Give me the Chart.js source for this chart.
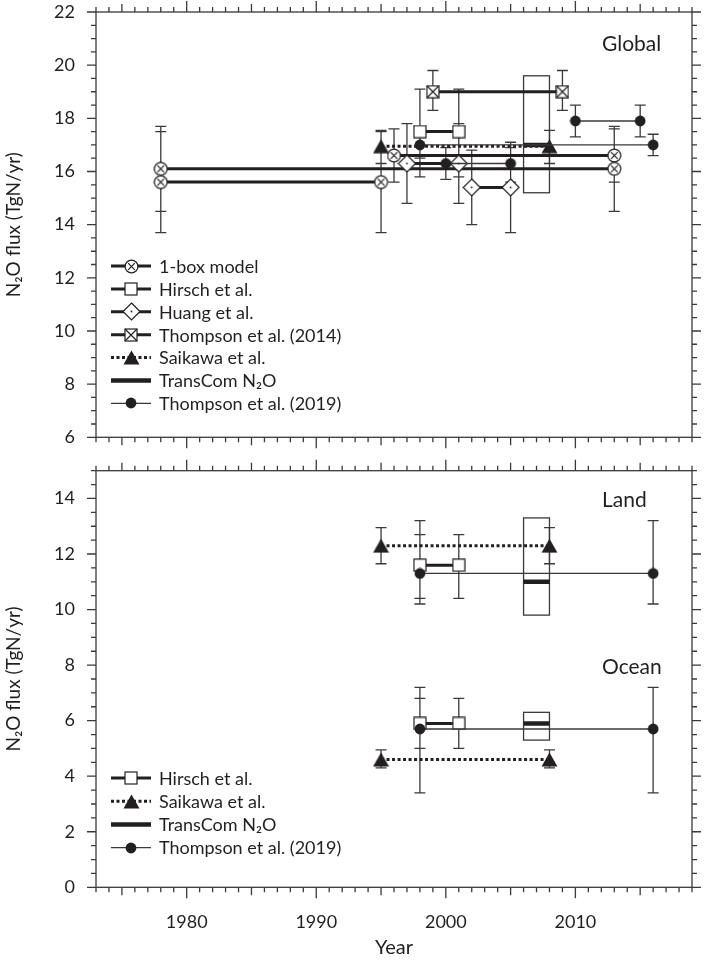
<!DOCTYPE html>
<html><head><meta charset="utf-8">
<script src="https://cdn.jsdelivr.net/npm/chart.js@4.4.1/dist/chart.umd.min.js"></script>
<style>
html,body{margin:0;padding:0;background:#fff;}
#wrap{position:relative;width:705px;height:960px;overflow:hidden;}
.cw{position:absolute;left:0;width:705px;}
</style></head><body>
<div id="wrap">
  <div class="cw" style="top:0;height:450px;"><canvas id="c1" width="705" height="450"></canvas></div>
  <div class="cw" style="top:450px;height:510px;"><canvas id="c2" width="705" height="510"></canvas></div>
</div>
<script>
// ---------------- DATA ----------------
const yearTicks    = [1980, 1990, 2000, 2010];
const globalTicks  = [6, 8, 10, 12, 14, 16, 18, 20, 22];
const regionTicks  = [0, 2, 4, 6, 8, 10, 12, 14];

// Global panel (each consecutive pair of points = one averaging period)
const boxYears   = [1978, 2013, 1978, 1995, 1996, 2013];
const boxFlux    = [16.1, 16.1, 15.6, 15.6, 16.6, 16.6];
const boxLow     = [14.5, 14.5, 13.7, 13.7, 15.6, 15.6];
const boxHigh    = [17.7, 17.7, 17.5, 17.5, 17.6, 17.6];

const hirschYears      = [1998, 2001];
const hirschGlobal     = [17.5, 17.5];
const hirschGlobalLow  = [15.8, 15.8];
const hirschGlobalHigh = [19.1, 19.1];

const huangYears = [1997, 2001, 2002, 2005];
const huangFlux  = [16.3, 16.3, 15.4, 15.4];
const huangLow   = [14.8, 14.8, 14.0, 13.7];
const huangHigh  = [17.8, 17.8, 16.8, 17.1];

const thompson14Years = [1999, 2009];
const thompson14Flux  = [19.0, 19.0];
const thompson14Low   = [18.3, 18.3];
const thompson14High  = [19.8, 19.8];

const saikawaYears      = [1995, 2008];
const saikawaGlobal     = [16.95, 16.95];
const saikawaGlobalLow  = [16.3, 16.3];
const saikawaGlobalHigh = [17.55, 17.55];

const transcomYears       = [2006, 2008];
const transcomGlobal      = [17.0, 17.0];
const transcomGlobalRange = [15.2, 19.6];

const thompson19GlobalYears = [1998, 2016, 2000, 2005, 2010, 2015];
const thompson19Global      = [17.0, 17.0, 16.3, 16.3, 17.9, 17.9];
const thompson19GlobalLow   = [16.5, 16.6, 15.7, 15.6, 17.3, 17.3];
const thompson19GlobalHigh  = [17.5, 17.4, 16.9, 16.9, 18.5, 18.5];

// Land / Ocean panel
const hirschLand      = [11.6, 11.6];
const hirschLandLow   = [10.4, 10.4];
const hirschLandHigh  = [12.7, 12.7];
const hirschOcean     = [5.9, 5.9];
const hirschOceanLow  = [5.0, 5.0];
const hirschOceanHigh = [6.8, 6.8];

const saikawaLand      = [12.3, 12.3];
const saikawaLandLow   = [11.65, 11.65];
const saikawaLandHigh  = [12.95, 12.95];
const saikawaOcean     = [4.6, 4.6];
const saikawaOceanLow  = [4.3, 4.3];
const saikawaOceanHigh = [4.95, 4.95];

const transcomLand       = [11.0, 11.0];
const transcomLandRange  = [9.8, 13.3];
const transcomOcean      = [5.9, 5.9];
const transcomOceanRange = [5.3, 6.3];

const thompson19RegionYears = [1998, 2016];
const thompson19Land      = [11.3, 11.3];
const thompson19LandLow   = [10.2, 10.2];
const thompson19LandHigh  = [13.2, 13.2];
const thompson19Ocean     = [5.7, 5.7];
const thompson19OceanLow  = [3.4, 3.4];
const thompson19OceanHigh = [7.2, 7.2];

const globalLegendLabels = ['1-box model', 'Hirsch et al.', 'Huang et al.', 'Thompson et al. (2014)', 'Saikawa et al.', 'TransCom N\u2082O', 'Thompson et al. (2019)'];
const regionLegendLabels = ['Hirsch et al.', 'Saikawa et al.', 'TransCom N\u2082O', 'Thompson et al. (2019)'];

// ---------------- STYLE ----------------
const INK = '#231f20';
const GREY = '#3a3a3a';
const FONT = 'Lato, "DejaVu Sans", sans-serif';
Chart.defaults.font.family = FONT;
Chart.defaults.color = INK;

function makeMarker(kind) {
  const c = document.createElement('canvas');
  const s = {circX: 15, square: 14, squareX: 14, diamond: 19, tri: 17, dot: 12}[kind];
  c.width = s; c.height = (kind === 'tri') ? 15 : s;
  const g = c.getContext('2d');
  g.strokeStyle = INK; g.fillStyle = '#fff'; g.lineWidth = 1.2;
  const m = s / 2;
  if (kind === 'circX') {
    g.beginPath(); g.arc(m, m, 6.4, 0, Math.PI * 2); g.fill(); g.stroke();
    g.beginPath(); const d = 3.3;
    g.moveTo(m - d, m - d); g.lineTo(m + d, m + d); g.moveTo(m + d, m - d); g.lineTo(m - d, m + d); g.stroke();
  } else if (kind === 'square' || kind === 'squareX') {
    g.fillRect(1, 1, s - 2, s - 2); g.strokeRect(1, 1, s - 2, s - 2);
    if (kind === 'squareX') { g.beginPath(); g.moveTo(1, 1); g.lineTo(s - 1, s - 1); g.moveTo(s - 1, 1); g.lineTo(1, s - 1); g.stroke(); }
  } else if (kind === 'diamond') {
    g.beginPath(); g.moveTo(m, 1); g.lineTo(s - 1, m); g.lineTo(m, s - 1); g.lineTo(1, m); g.closePath(); g.fill(); g.stroke();
    g.fillStyle = INK; g.beginPath(); g.arc(m, m, 0.9, 0, Math.PI * 2); g.fill();
  } else if (kind === 'tri') {
    g.fillStyle = INK; g.beginPath(); g.moveTo(m, 0.5); g.lineTo(s - 0.5, 14.5); g.lineTo(0.5, 14.5); g.closePath(); g.fill();
  } else if (kind === 'dot') {
    g.fillStyle = INK; g.beginPath(); g.arc(m, m, 5.4, 0, Math.PI * 2); g.fill();
  }
  return c;
}
const MK = {circX: makeMarker('circX'), square: makeMarker('square'), squareX: makeMarker('squareX'),
            diamond: makeMarker('diamond'), tri: makeMarker('tri'), dot: makeMarker('dot')};

const ST = {
  box:     {borderColor: INK, borderWidth: 3, pointStyle: MK.circX, pointRadius: 6, order: 6},
  hirsch:  {borderColor: INK, borderWidth: 3, pointStyle: MK.square, pointRadius: 6, order: 4},
  huang:   {borderColor: INK, borderWidth: 3, pointStyle: MK.diamond, pointRadius: 6, order: 5},
  thom14:  {borderColor: INK, borderWidth: 3, pointStyle: MK.squareX, pointRadius: 6, order: 3},
  saikawa: {borderColor: INK, borderWidth: 3, borderDash: [3, 2.5], pointStyle: MK.tri, pointRadius: 6, order: 2},
  transcom:{borderColor: INK, borderWidth: 4.5, pointRadius: 0, order: 1},
  thom19:  {borderColor: GREY, borderWidth: 1.3, pointStyle: MK.dot, pointRadius: 6, order: 0}
};

function series(years, vals, style) {
  const out = [];
  for (let i = 0; i < years.length; i += 2) {
    out.push(Object.assign({data: [{x: years[i], y: vals[i]}, {x: years[i + 1], y: vals[i + 1]}],
      fill: false, showLine: true, borderCapStyle: 'butt'}, style));
  }
  return out;
}
function errs(years, lo, hi) { return years.map((x, i) => ({x: x, lo: lo[i], hi: hi[i]})); }

const extras = {
  c1: {
    errors: [].concat(
      errs(boxYears, boxLow, boxHigh),
      errs(hirschYears, hirschGlobalLow, hirschGlobalHigh),
      errs(huangYears, huangLow, huangHigh),
      errs(thompson14Years, thompson14Low, thompson14High),
      errs(saikawaYears, saikawaGlobalLow, saikawaGlobalHigh),
      errs(thompson19GlobalYears, thompson19GlobalLow, thompson19GlobalHigh)),
    boxes: [{x0: transcomYears[0], x1: transcomYears[1], lo: transcomGlobalRange[0], hi: transcomGlobalRange[1]}],
    labels: [{text: 'Global', y: 44}],
    legend: {y0: 266, dy: 22.9, items: [
      [globalLegendLabels[0], ST.box], [globalLegendLabels[1], ST.hirsch], [globalLegendLabels[2], ST.huang],
      [globalLegendLabels[3], ST.thom14], [globalLegendLabels[4], ST.saikawa], [globalLegendLabels[5], ST.transcom],
      [globalLegendLabels[6], ST.thom19]]}
  },
  c2: {
    errors: [].concat(
      errs(hirschYears, hirschLandLow, hirschLandHigh),
      errs(hirschYears, hirschOceanLow, hirschOceanHigh),
      errs(saikawaYears, saikawaLandLow, saikawaLandHigh),
      errs(saikawaYears, saikawaOceanLow, saikawaOceanHigh),
      errs(thompson19RegionYears, thompson19LandLow, thompson19LandHigh),
      errs(thompson19RegionYears, thompson19OceanLow, thompson19OceanHigh)),
    boxes: [{x0: transcomYears[0], x1: transcomYears[1], lo: transcomLandRange[0], hi: transcomLandRange[1]},
            {x0: transcomYears[0], x1: transcomYears[1], lo: transcomOceanRange[0], hi: transcomOceanRange[1]}],
    labels: [{text: 'Land', y: 50.5}, {text: 'Ocean', y: 217}],
    legend: {y0: 328, dy: 23.2, items: [
      [regionLegendLabels[0], ST.hirsch], [regionLegendLabels[1], ST.saikawa],
      [regionLegendLabels[2], ST.transcom], [regionLegendLabels[3], ST.thom19]]}
  }
};

const framePlugin = {
  id: 'frame',
  beforeDatasetsDraw(chart) {
    const ex = extras[chart.canvas.id];
    const {ctx} = chart; const x = chart.scales.x, y = chart.scales.y;
    ctx.save();
    ctx.strokeStyle = GREY; ctx.lineWidth = 1.3;
    ctx.beginPath();
    ex.errors.forEach(e => {
      const px = x.getPixelForValue(e.x), pl = y.getPixelForValue(e.lo), ph = y.getPixelForValue(e.hi);
      ctx.moveTo(px, pl); ctx.lineTo(px, ph);
      ctx.moveTo(px - 5.5, pl); ctx.lineTo(px + 5.5, pl);
      ctx.moveTo(px - 5.5, ph); ctx.lineTo(px + 5.5, ph);
    });
    ctx.stroke();
    ex.boxes.forEach(b => {
      const x0 = x.getPixelForValue(b.x0), x1 = x.getPixelForValue(b.x1);
      const y0 = y.getPixelForValue(b.hi), y1 = y.getPixelForValue(b.lo);
      ctx.strokeRect(x0, y0, x1 - x0, y1 - y0);
    });
    ctx.restore();
  },
  afterDatasetsDraw(chart) {
    const ex = extras[chart.canvas.id];
    const {ctx, chartArea: a} = chart; const x = chart.scales.x, y = chart.scales.y;
    ctx.save();
    // frame
    ctx.strokeStyle = GREY; ctx.lineWidth = 1.3;
    ctx.strokeRect(a.left, a.top, a.right - a.left, a.bottom - a.top);
    ctx.beginPath();
    for (let yr = Math.ceil(x.min); yr <= x.max; yr++) {
      const px = x.getPixelForValue(yr);
      const len = yr % 10 === 0 ? 11 : (yr % 5 === 0 ? 8 : 5);
      ctx.moveTo(px, a.bottom); ctx.lineTo(px, a.bottom + len);
      ctx.moveTo(px, a.top); ctx.lineTo(px, a.top - len);
    }
    for (let k = 0; y.min + k * 0.5 <= y.max + 1e-9; k++) {
      const v = y.min + k * 0.5;
      const py = y.getPixelForValue(v);
      const len = (Math.abs(v % 2) < 1e-9) ? 9 : 5;
      ctx.moveTo(a.left, py); ctx.lineTo(a.left - len, py);
      ctx.moveTo(a.right, py); ctx.lineTo(a.right + len, py);
    }
    ctx.stroke();
    // panel labels
    ctx.fillStyle = INK; ctx.textBaseline = 'middle'; ctx.textAlign = 'left';
    ctx.font = '21px ' + FONT;
    ex.labels.forEach(l => ctx.fillText(l.text, 602, l.y));
    // legend
    const L = ex.legend;
    L.items.forEach((it, i) => {
      const yy = L.y0 + i * L.dy; const st = it[1];
      ctx.save();
      ctx.strokeStyle = st.borderColor; ctx.lineWidth = st.borderWidth;
      ctx.setLineDash(st.borderDash || []);
      ctx.beginPath(); ctx.moveTo(111, yy); ctx.lineTo(151, yy); ctx.stroke();
      ctx.restore();
      if (st.pointStyle) { const im = st.pointStyle; ctx.drawImage(im, Math.round(131 - im.width / 2), Math.round(yy - im.height / 2)); }
      ctx.font = '18px ' + FONT; ctx.fillStyle = INK;
      ctx.fillText(it[0], 159, yy + 1);
    });
    ctx.restore();
  }
};

function makeChart(id, datasets, yMin, yMax, yTicks, showX, topPad, bottomH) {
  return new Chart(document.getElementById(id), {
    type: 'line',
    data: {datasets: datasets},
    plugins: [framePlugin],
    options: {
      responsive: false, animation: false,
      layout: {padding: {top: topPad, right: 13, left: 0, bottom: 0}},
      plugins: {legend: {display: false}, tooltip: {enabled: false}},
      scales: {
        x: {
          type: 'linear', min: 1973, max: 2019,
          afterBuildTicks: s => { s.ticks = yearTicks.map(v => ({value: v})); },
          grid: {display: false, drawTicks: false}, border: {display: false},
          ticks: {display: showX, padding: 24, autoSkip: false, maxRotation: 0, font: {size: 18}, color: INK, callback: v => String(v)},
          title: {display: showX, text: 'Year', font: {size: 20}, color: INK, padding: {top: 0, bottom: 0}},
          afterFit: s => { s.height = bottomH; s.paddingLeft = 0; s.paddingRight = 0; }
        },
        y: {
          type: 'linear', min: yMin, max: yMax,
          afterBuildTicks: s => { s.ticks = yTicks.map(v => ({value: v})); },
          grid: {display: false, drawTicks: false}, border: {display: false},
          ticks: {padding: 21, font: {size: 18}, color: INK, callback: v => String(v)},
          title: {display: true, text: 'N\u2082O flux (TgN/yr)', font: {size: 19}, color: INK, padding: {top: 2.5, bottom: 0}},
          afterFit: s => { s.width = 96; s.paddingTop = 0; s.paddingBottom = 0; }
        }
      }
    }
  });
}

const globalSets = [].concat(
  series(boxYears, boxFlux, ST.box),
  series(hirschYears, hirschGlobal, ST.hirsch),
  series(huangYears, huangFlux, ST.huang),
  series(thompson14Years, thompson14Flux, ST.thom14),
  series(saikawaYears, saikawaGlobal, ST.saikawa),
  series(transcomYears, transcomGlobal, ST.transcom),
  series(thompson19GlobalYears, thompson19Global, ST.thom19));

const regionSets = [].concat(
  series(hirschYears, hirschLand, ST.hirsch),
  series(hirschYears, hirschOcean, ST.hirsch),
  series(saikawaYears, saikawaLand, ST.saikawa),
  series(saikawaYears, saikawaOcean, ST.saikawa),
  series(transcomYears, transcomLand, ST.transcom),
  series(transcomYears, transcomOcean, ST.transcom),
  series(thompson19RegionYears, thompson19Land, ST.thom19),
  series(thompson19RegionYears, thompson19Ocean, ST.thom19));

makeChart('c1', globalSets, 6, 22, globalTicks, false, 12, 12.7);
makeChart('c2', regionSets, 0, 15, regionTicks, true, 20.7, 72.7);
</script>
</body></html>
